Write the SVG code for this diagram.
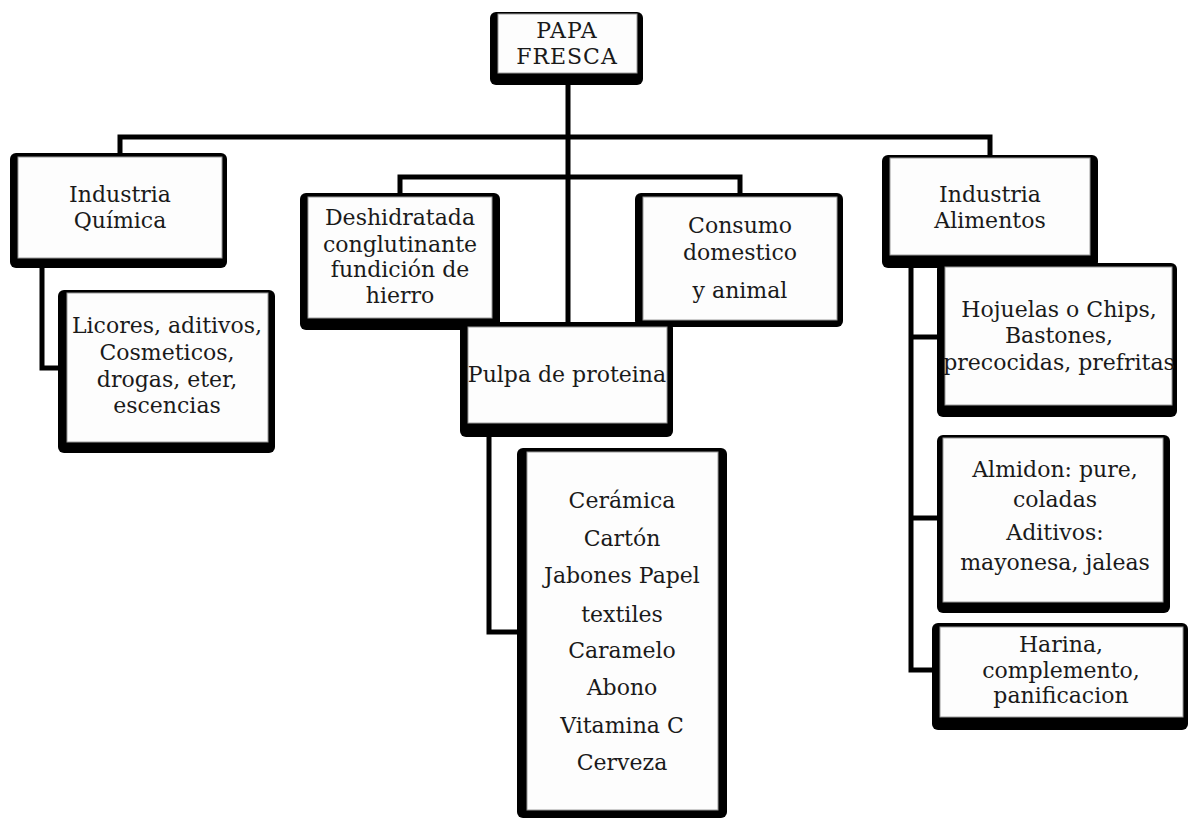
<svg xmlns="http://www.w3.org/2000/svg" width="1191" height="819" viewBox="0 0 1191 819">
<style>
.sh{fill:#000}
.bx{fill:#fdfdfd;stroke:#9a9a9a;stroke-width:1}
.t{font-family:"DejaVu Serif","Liberation Serif",serif;font-size:22px;fill:#1a1a1a;text-anchor:middle}
.c{fill:none;stroke:#000;stroke-width:5}
</style>
<rect width="1191" height="819" fill="#fff"/>
<g id="connectors">
<path class="c" d="M568,85 V322"/>
<path class="c" d="M120,155 V137 H990 V157"/>
<path class="c" d="M400,195 V177 H740 V195"/>
<path class="c" d="M42,266 V368 H60"/>
<path class="c" d="M489,435 V632 H519"/>
<path class="c" d="M911,266 V670 H934"/>
<path class="c" d="M911,337 H939"/>
<path class="c" d="M911,518 H939"/>
</g>
<g id="papa">
<rect class="sh" x="490" y="12" width="153" height="73" rx="6"/>
<rect class="bx" x="498" y="14" width="139" height="59"/>
<text class="t" x="567" y="38" letter-spacing="1">PAPA</text>
<text class="t" x="567" y="64" letter-spacing="1">FRESCA</text>
</g>
<g id="quimica">
<rect class="sh" x="10" y="153" width="217" height="115" rx="6"/>
<rect class="bx" x="18" y="157" width="204" height="101"/>
<text class="t" x="120" y="202">Industria</text>
<text class="t" x="120" y="228">Química</text>
</g>
<g id="licores">
<rect class="sh" x="58" y="290" width="217" height="163" rx="6"/>
<rect class="bx" x="67" y="293" width="201" height="149"/>
<text class="t" x="167" y="333">Licores, aditivos,</text>
<text class="t" x="167" y="360">Cosmeticos,</text>
<text class="t" x="167" y="387">drogas, eter,</text>
<text class="t" x="167" y="413">escencias</text>
</g>
<g id="deshidratada">
<rect class="sh" x="300" y="193" width="200" height="137" rx="6"/>
<rect class="bx" x="308" y="197" width="184" height="121"/>
<text class="t" x="400" y="225">Deshidratada</text>
<text class="t" x="400" y="252">conglutinante</text>
<text class="t" x="400" y="277">fundición de</text>
<text class="t" x="400" y="303">hierro</text>
</g>
<g id="consumo">
<rect class="sh" x="635" y="193" width="208" height="134" rx="6"/>
<rect class="bx" x="643" y="197" width="194" height="123"/>
<text class="t" x="740" y="233">Consumo</text>
<text class="t" x="740" y="260">domestico</text>
<text class="t" x="740" y="298">y animal</text>
</g>
<g id="pulpa">
<rect class="sh" x="460" y="322" width="213" height="115" rx="6"/>
<rect class="bx" x="468" y="327" width="199" height="96"/>
<text class="t" x="567" y="382">Pulpa de proteina</text>
</g>
<g id="ceramica">
<rect class="sh" x="517" y="448" width="210" height="370" rx="6"/>
<rect class="bx" x="527" y="452" width="191" height="358"/>
<text class="t" x="622" y="508">Cerámica</text>
<text class="t" x="622" y="546">Cartón</text>
<text class="t" x="622" y="583">Jabones Papel</text>
<text class="t" x="622" y="622">textiles</text>
<text class="t" x="622" y="658">Caramelo</text>
<text class="t" x="622" y="695">Abono</text>
<text class="t" x="622" y="733">Vitamina C</text>
<text class="t" x="622" y="770">Cerveza</text>
</g>
<g id="alimentos">
<rect class="sh" x="882" y="155" width="216" height="113" rx="6"/>
<rect class="bx" x="890" y="158" width="200" height="97"/>
<text class="t" x="990" y="202">Industria</text>
<text class="t" x="990" y="228">Alimentos</text>
</g>
<g id="hojuelas">
<rect class="sh" x="937" y="263" width="240" height="154" rx="6"/>
<rect class="bx" x="945" y="267" width="227" height="138"/>
<text class="t" x="1059" y="317">Hojuelas o Chips,</text>
<text class="t" x="1059" y="343">Bastones,</text>
<text class="t" x="1059" y="370">precocidas, prefritas</text>
</g>
<g id="almidon">
<rect class="sh" x="937" y="435" width="233" height="178" rx="6"/>
<rect class="bx" x="943" y="438" width="220" height="164"/>
<text class="t" x="1055" y="477">Almidon: pure,</text>
<text class="t" x="1055" y="507">coladas</text>
<text class="t" x="1055" y="540">Aditivos:</text>
<text class="t" x="1055" y="570">mayonesa, jaleas</text>
</g>
<g id="harina">
<rect class="sh" x="932" y="623" width="256" height="107" rx="6"/>
<rect class="bx" x="940" y="627" width="243" height="90"/>
<text class="t" x="1061" y="652">Harina,</text>
<text class="t" x="1061" y="678">complemento,</text>
<text class="t" x="1061" y="703">panificacion</text>
</g>
</svg>
